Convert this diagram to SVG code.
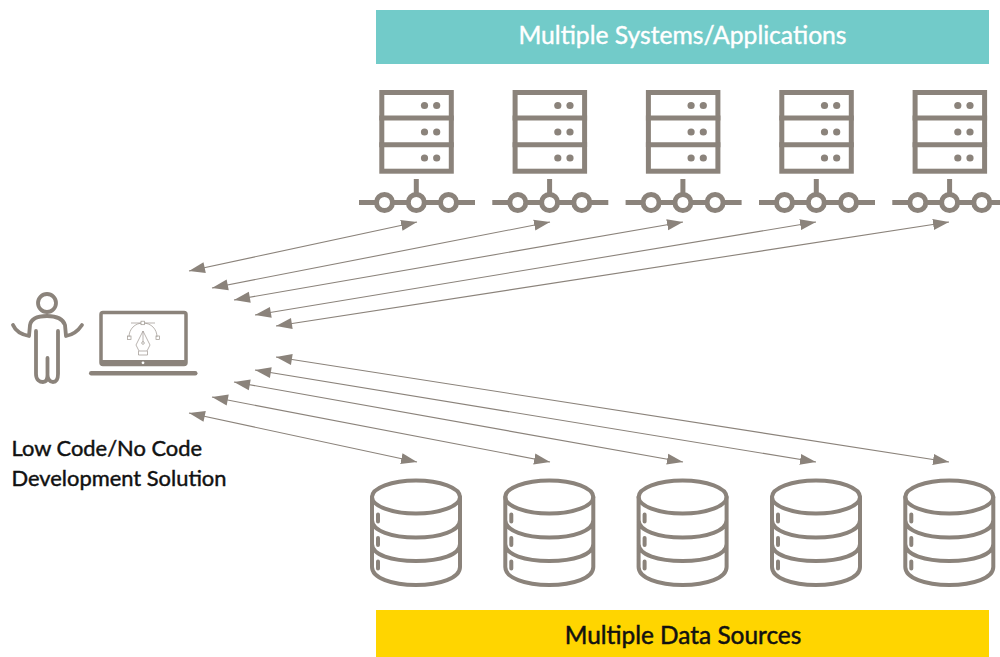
<svg xmlns="http://www.w3.org/2000/svg" width="1000" height="657" viewBox="0 0 1000 657">
<style>
text{font-family:Lato,"Open Sans",sans-serif}
.t{font-size:24.650px;text-anchor:middle;stroke-width:.4}
.lab{font-size:21.900px;fill:#111;stroke:#111;stroke-width:.45}
.ic{fill:none;stroke:#8b837b;stroke-width:5}
.db{fill:none;stroke:#8b837b;stroke-width:4;stroke-linecap:round}
.d{fill:#8b837b}
.c{fill:#fff;stroke:#8b837b;stroke-width:5}
.ln{stroke:#8b837b;stroke-width:1.100;fill:none;marker-start:url(#a);marker-end:url(#b)}
.fine{fill:none;stroke:#8b837b;stroke-width:.7;opacity:.85}
</style>
<defs>
<marker id="b" markerUnits="userSpaceOnUse" markerWidth="18" markerHeight="12" refX="16" refY="6" orient="auto"><path d="M0 .5L16 6L0 11.500Z" fill="#8b837b"/></marker>
<marker id="a" markerUnits="userSpaceOnUse" markerWidth="18" markerHeight="12" refX="0" refY="6" orient="auto"><path d="M16 .5L0 6L16 11.500Z" fill="#8b837b"/></marker>
<g id="srv">
<rect class="ic" x="381.800" y="92.500" width="69.500" height="78.700"/>
<path class="ic" d="M379.300 118H453.800M379.300 144.700H453.800M416.300 179V195M359 202.500H475"/>
<circle class="d" cx="424.500" cy="105.500" r="3.600"/><circle class="d" cx="436.700" cy="105.500" r="3.600"/>
<circle class="d" cx="424.500" cy="132" r="3.600"/><circle class="d" cx="436.700" cy="132" r="3.600"/>
<circle class="d" cx="424.500" cy="158" r="3.600"/><circle class="d" cx="436.700" cy="158" r="3.600"/>
<circle class="c" cx="384.500" cy="202.500" r="8"/><circle class="c" cx="416.300" cy="202.500" r="8"/><circle class="c" cx="448.500" cy="202.500" r="8"/>
</g>
<g id="dbs">
<ellipse class="db" cx="416" cy="497" rx="44" ry="16.500"/>
<path class="db" d="M372 497V567C372 578 392 585 416 585S460 578 460 567V497M372 520C372 531 392 537.500 416 537.500S460 531 460 520M372 544C372 555 392 561 416 561S460 555 460 544M378 514.500V521.500M378 538V545M378 561.500V568.500"/>
</g>
</defs>
<rect x="376" y="10" width="613" height="54" fill="#72cbc9"/>
<text class="t" x="682.500" y="44" fill="#fff" stroke="#fff">Multiple Systems/Applications</text>
<g id="server1"><use href="#srv"/></g>
<g id="server2"><use href="#srv" x="133.300"/></g>
<g id="server3"><use href="#srv" x="266.600"/></g>
<g id="server4"><use href="#srv" x="400"/></g>
<g id="server5"><use href="#srv" x="533.300"/></g>
<g id="connectors">
<line class="ln" x1="189" y1="271" x2="417" y2="222"/>
<line class="ln" x1="212" y1="288" x2="550" y2="222"/>
<line class="ln" x1="234" y1="300" x2="683" y2="222"/>
<line class="ln" x1="255" y1="315" x2="816" y2="222"/>
<line class="ln" x1="276" y1="326" x2="949" y2="222"/>
<line class="ln" x1="189" y1="413" x2="417" y2="462"/>
<line class="ln" x1="212" y1="397" x2="550" y2="462"/>
<line class="ln" x1="234" y1="382" x2="683" y2="462"/>
<line class="ln" x1="255" y1="370" x2="816" y2="462"/>
<line class="ln" x1="276" y1="357" x2="949" y2="462"/>
</g>
<g id="person" fill="none" stroke="#8b837b" stroke-width="3.800" stroke-linecap="round" stroke-linejoin="round">
<circle cx="47" cy="303" r="9"/>
<path d="M13 325C16 332 24 335 29 336L30 325C31 319 36 316 47 316S63 319 65 325L66 336C72 335 78 331 82 325"/>
<path d="M36 331V374C36 380 40 382 43 382S47.500 379 47.500 375V358M47.500 375C47.500 379 50 382 53 382S58 380 58 374V331"/>
</g>
<g id="laptop">
<rect x="101" y="312.500" width="85" height="52" rx="2" fill="none" stroke="#8b837b" stroke-width="3.500"/>
<path d="M101 360H186V366H101Z" fill="#8b837b"/>
<circle cx="143" cy="362.800" r="1.400" fill="#fff"/>
<rect x="89" y="371" width="108.500" height="4.500" rx="2.200" fill="#8b837b"/>
<g class="fine">
<path d="M129 337C129 329 135 323 143 323S157 329 157 337"/>
<path d="M131 323H155"/>
<rect x="141" y="321.200" width="3.500" height="3.500" fill="#fff"/>
<rect x="127.500" y="336" width="3.500" height="3.500"/>
<rect x="156" y="336" width="3.500" height="3.500"/>
<path d="M143 331L150 345L147 351H139L136 345Z"/>
<path d="M143 331V342"/>
<circle cx="143" cy="343" r="1.300"/>
<path d="M138.500 351V355H147.500V351"/>
</g>
</g>
<text class="lab"><tspan x="11.500" y="456">Low Code/No Code</tspan><tspan x="11.500" y="485.500">Development Solution</tspan></text>
<g id="db1"><use href="#dbs"/></g>
<g id="db2"><use href="#dbs" x="133.300"/></g>
<g id="db3"><use href="#dbs" x="266.600"/></g>
<g id="db4"><use href="#dbs" x="400"/></g>
<g id="db5"><use href="#dbs" x="533.300"/></g>
<rect x="376" y="610" width="613" height="47" fill="#ffd500"/>
<text class="t" x="683" y="644" fill="#111" stroke="#111" style="font-size:24.400px;stroke-width:.5">Multiple Data Sources</text>
</svg>
